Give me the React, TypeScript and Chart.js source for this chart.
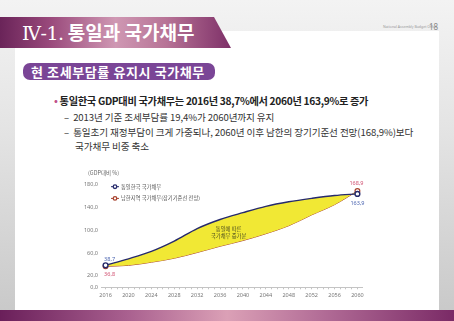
import React, { useEffect, useRef } from "react";
import { Chart, registerables } from "chart.js";
Chart.register(...registerables);

const years = [2016, 2020, 2024, 2028, 2032, 2036, 2040, 2044, 2048, 2052, 2056, 2060];
const unifiedDebt = [38.7, 50, 63, 81, 103, 119, 131, 142, 150, 156, 161, 163.9];
const southDebt = [36.8, 38.5, 44, 51, 61, 72, 82, 94, 108, 127, 145, 168.9];
const xTickLabels = [2016, 2020, 2024, 2028, 2032, 2036, 2040, 2044, 2048, 2052, 2056, 2060];
const yTickValues = [0, 20, 60, 100, 140, 180];
const seriesNames = ["통일한국 국가채무", "남한지역 국가채무(장기기준선 전망)"];
const yAxisTitle = "(GDP대비 %)";
const fillNote = ["통일에 따른", "국가채무 증가분"];

const NAVY = "#262a6c";
const RED = "#a8422e";
const YELLOW = "rgb(241,232,52)";
const KFONT = "'Noto Sans CJK KR', 'Noto Sans', sans-serif";

const fmt = (v: number) => v.toFixed(1).replace(".", ",");

export default function App() {
  const ref = useRef<HTMLCanvasElement | null>(null);
  useEffect(() => {
    if (!ref.current) return;
    const n = years.length;
    const radii = years.map((_, i) => (i === 0 || i === n - 1 ? 2.4 : 0));
    const extras = {
      id: "extras",
      afterDatasetsDraw(chart: any) {
        const { ctx, chartArea: a, scales } = chart;
        const xs = scales.x, ys = scales.y;
        ctx.save();
        ctx.font = `5.5px ${KFONT}`;
        ctx.fillStyle = "#666";
        ctx.textAlign = "left";
        ctx.textBaseline = "middle";
        ctx.fillText(yAxisTitle, a.left - 13, a.top - 12);
        const cols = [NAVY, RED];
        seriesNames.forEach((name, i) => {
          const ly = a.top + 2 + i * 11.7;
          const lx = a.left + 14;
          ctx.strokeStyle = cols[i];
          ctx.lineWidth = 1;
          ctx.beginPath();
          ctx.moveTo(lx - 4, ly);
          ctx.lineTo(lx + 4, ly);
          ctx.stroke();
          ctx.fillStyle = "#fff";
          ctx.lineWidth = 1.3;
          ctx.beginPath();
          ctx.arc(lx, ly, 1.8, 0, Math.PI * 2);
          ctx.fill();
          ctx.stroke();
          ctx.fillStyle = "#555";
          ctx.font = `5.3px ${KFONT}`;
          ctx.fillText(name, lx + 6, ly);
        });
        ctx.textAlign = "center";
        ctx.fillStyle = "#4a4a20";
        ctx.font = `5.3px ${KFONT}`;
        const nx = xs.getPixelForValue(2037.5);
        const midY = (ys.getPixelForValue(unifiedDebt[5]) + ys.getPixelForValue(southDebt[5])) / 2;
        ctx.fillText(fillNote[0], nx, midY - 3.5);
        ctx.fillText(fillNote[1], nx, midY + 3);
        ctx.font = `5.5px 'Noto Sans', sans-serif`;
        const x0 = xs.getPixelForValue(years[0]);
        const x1 = xs.getPixelForValue(years[n - 1]);
        ctx.fillStyle = "#4a64b0";
        ctx.fillText(fmt(unifiedDebt[0]), x0 + 4, ys.getPixelForValue(unifiedDebt[0]) - 6);
        ctx.fillStyle = "#d05070";
        ctx.fillText(fmt(southDebt[0]), x0 + 4, ys.getPixelForValue(southDebt[0]) + 8);
        ctx.fillStyle = "#d05070";
        ctx.fillText(fmt(southDebt[n - 1]), x1 - 1, ys.getPixelForValue(southDebt[n - 1]) - 8);
        ctx.fillStyle = "#4a64b0";
        ctx.fillText(fmt(unifiedDebt[n - 1]), x1, ys.getPixelForValue(unifiedDebt[n - 1]) + 10);
        ctx.restore();
      },
    };
    const chart = new Chart(ref.current, {
      type: "line",
      data: {
        labels: years,
        datasets: [
          {
            label: seriesNames[0],
            data: years.map((y, i) => ({ x: y, y: unifiedDebt[i] })),
            borderColor: NAVY,
            borderWidth: 1.4,
            backgroundColor: YELLOW,
            fill: { target: 1, above: YELLOW, below: YELLOW },
            cubicInterpolationMode: "monotone",
            pointRadius: radii,
            pointBackgroundColor: "#fff",
            pointBorderColor: NAVY,
            pointBorderWidth: 1.4,
          },
          {
            label: seriesNames[1],
            data: years.map((y, i) => ({ x: y, y: southDebt[i] })),
            borderColor: RED,
            borderWidth: 1,
            fill: false,
            cubicInterpolationMode: "monotone",
            pointRadius: radii,
            pointBackgroundColor: "#fff",
            pointBorderColor: RED,
            pointBorderWidth: 1.2,
          },
        ],
      },
      options: {
        animation: false,
        responsive: false,
        layout: { padding: { top: 24.7, right: 18, left: 0, bottom: 0 } },
        plugins: { legend: { display: false }, tooltip: { enabled: false } },
        scales: {
          x: {
            type: "linear",
            min: 2015.2,
            max: 2060.8,
            afterBuildTicks: (s: any) => {
              const t = [];
              for (let v = xTickLabels[0]; v <= xTickLabels[xTickLabels.length - 1]; v++) t.push({ value: v });
              s.ticks = t;
            },
            afterFit: (s: any) => { s.height = 17.7; },
            grid: { display: true, drawOnChartArea: false, drawTicks: true, tickLength: 2, color: "#c4c4c4" },
            border: { display: true, color: "#c4c4c4" },
            ticks: {
              autoSkip: false,
              maxRotation: 0,
              padding: 3,
              color: "#777",
              font: { size: 5.5, family: "'Noto Sans', sans-serif" },
              callback: (v: any) => (xTickLabels.includes(Number(v)) ? String(v) : ""),
            },
          },
          y: {
            min: 0,
            max: 180,
            afterBuildTicks: (s: any) => { s.ticks = yTickValues.map((v) => ({ value: v })); },
            afterFit: (s: any) => { s.width = 41; },
            grid: { display: false, drawTicks: false },
            border: { display: false },
            ticks: {
              padding: 3,
              color: "#777",
              font: { size: 5.5, family: "'Noto Sans', sans-serif" },
              callback: (v: any) => fmt(Number(v)),
            },
          },
        },
      },
      plugins: [extras],
    } as any);
    return () => chart.destroy();
  }, []);

  return (
    <div style={{ position: "fixed", left: 0, top: 0, width: 454, height: 321, overflow: "hidden", background: "linear-gradient(180deg,#f3f3f3 0%,#e4e4e4 40%,#c8c8c8 100%)", fontFamily: KFONT }}>
      <div style={{ position: "absolute", left: 15, top: 31, width: 424, height: 280, background: "#fff" }} />
      <div style={{ position: "absolute", left: 0, top: 17, width: 231, height: 31, background: "linear-gradient(90deg,#6a2459 0%,#9a4a7c 22%,#cf98b3 50%,#b77396 72%,#7e3068 100%)", clipPath: "polygon(0 0, 214px 0, 231px 100%, 0 100%)" }} />
      <div style={{ position: "absolute", left: 22, top: 19, color: "#fff", fontSize: 19, fontWeight: 700, lineHeight: "26px", whiteSpace: "nowrap" }}>
        <span style={{ fontFamily: "'DejaVu Serif', serif", fontWeight: 400, letterSpacing: -0.5 }}>Ⅳ-1.</span> 통일과 국가채무
      </div>
      <div style={{ position: "absolute", left: 383, top: 24, color: "#999", fontSize: 3.5, fontFamily: "'Noto Sans', sans-serif", whiteSpace: "nowrap" }}>National Assembly Budget Office</div>
      <div style={{ position: "absolute", left: 429, top: 21, color: "#888", fontSize: 8, fontFamily: "'Noto Sans', sans-serif" }}>18</div>
      <div style={{ position: "absolute", left: 23, top: 63, width: 192, height: 17, borderRadius: 7, background: "#7a4596" }} />
      <div style={{ position: "absolute", left: 31, top: 62, color: "#fff", fontSize: 13, fontWeight: 700, lineHeight: "19px", whiteSpace: "nowrap", letterSpacing: 0.6 }}>현 조세부담률 유지시 국가채무</div>
      <div style={{ position: "absolute", left: 54, top: 94, color: "#222", fontSize: 10.2, fontWeight: 700, lineHeight: "14px", whiteSpace: "nowrap", letterSpacing: -0.3 }}>
        <span style={{ color: "#c0508a" }}>•</span> 통일한국 GDP대비 국가채무는 2016년 38,7%에서 2060년 163,9%로 증가
      </div>
      <div style={{ position: "absolute", left: 64, top: 111, color: "#333", fontSize: 9.6, lineHeight: "13px", whiteSpace: "nowrap", letterSpacing: -0.1 }}>–&nbsp; 2013년 기준 조세부담률 19,4%가 2060년까지 유지</div>
      <div style={{ position: "absolute", left: 64, top: 126, color: "#333", fontSize: 9.6, lineHeight: "13px", whiteSpace: "nowrap", letterSpacing: -0.1 }}>–&nbsp; 통일초기 재정부담이 크게 가중되나, 2060년 이후 남한의 장기기준선 전망(168,9%)보다</div>
      <div style={{ position: "absolute", left: 75, top: 140, color: "#333", fontSize: 9.6, lineHeight: "13px", whiteSpace: "nowrap", letterSpacing: -0.1 }}>국가채무 비중 축소</div>
      <canvas ref={ref} width={320} height={145} style={{ position: "absolute", left: 60, top: 160, width: 320, height: 145 }} />
      <div style={{ position: "absolute", left: 0, top: 310, width: 454, height: 11, background: "linear-gradient(90deg,#6a1f5a 0%,#a9608f 28%,#dba0b6 50%,#b06a95 72%,#7a2a66 100%)" }} />
    </div>
  );
}
